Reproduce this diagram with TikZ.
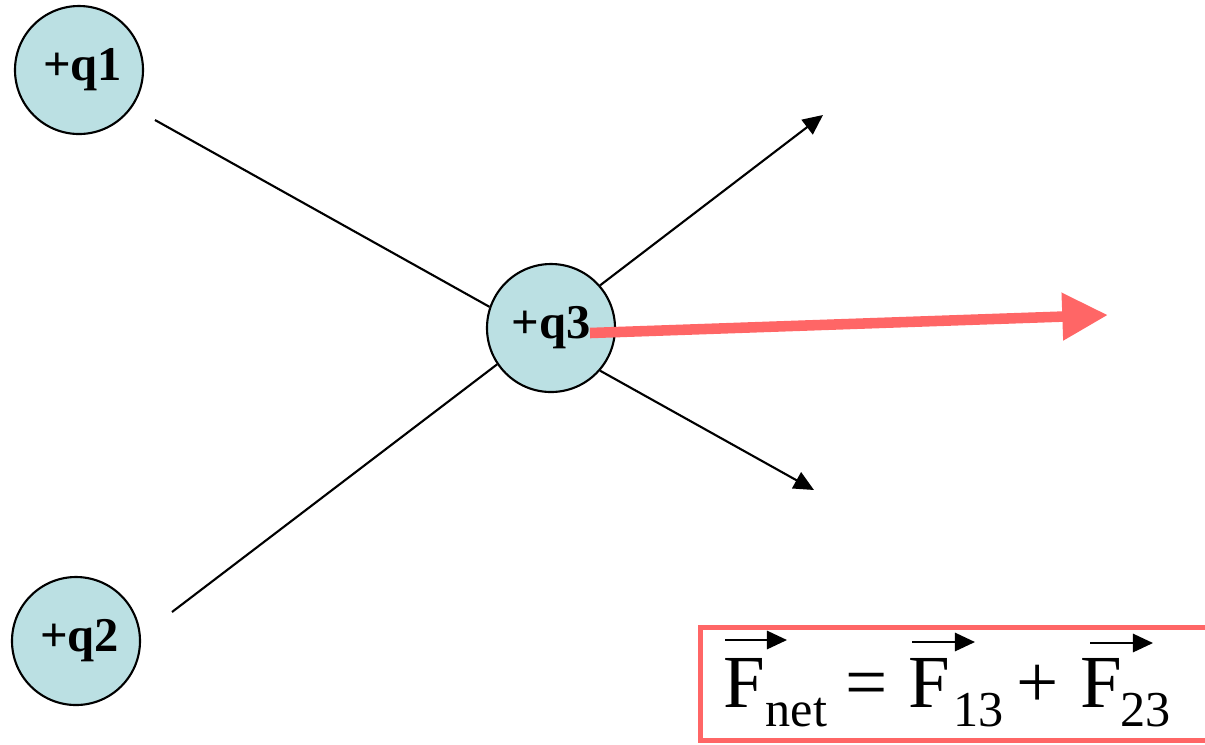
\documentclass[tikz,border=0pt]{standalone}
\usepackage{fontspec}
\setmainfont{Liberation Serif}
\usetikzlibrary{arrows.meta}
\definecolor{chargefill}{RGB}{187,224,227}
\definecolor{netred}{RGB}{255,102,102}
\tikzset{
  charge/.style={circle,draw=black,line width=0.6pt,fill=chargefill,minimum size=36.4pt,inner sep=0pt,font=\fontsize{13.8pt}{14pt}\selectfont\bfseries},
  fieldline/.style={draw=black,line width=0.6pt},
  forcearrow/.style={draw=black,line width=0.6pt,-{Triangle[length=5.7pt,width=5.2pt]}},
  netarrow/.style={draw=netred,line width=3pt,-{Triangle[length=13pt,width=12.8pt]}},
  eqbox/.style={draw=netred,line width=1.3pt},
  bigF/.style={inner sep=0pt,anchor=base west,font=\fontsize{21.3pt}{24pt}\selectfont},
  subtxt/.style={inner sep=0pt,anchor=base west,font=\fontsize{14.3pt}{16pt}\selectfont},
  vecarrow/.style={draw=black,line width=0.6pt,-{Triangle[length=5.7pt,width=5.2pt]}}
}
\begin{document}
\begin{tikzpicture}[x=0.01cm,y=-0.01cm]
\useasboundingbox (0,0) rectangle (1205,744);
\clip (0,0) rectangle (1205,744);
% charges
\node[charge] (q1) at (79,70) {\hspace*{2pt}+q1};
\node[charge] (q2) at (76,641) {\hspace*{2pt}+q2};
\node[charge] (q3) at (551,328) {+q3};
% free ends
\coordinate (s1) at (155,120);
\coordinate (s2) at (172,612);
\coordinate (t13) at (823,115);
\coordinate (t23) at (814,490);
\coordinate (ns) at (590,333);
\coordinate (nt) at (1108,315);
% lines
\draw[fieldline] (s1) -- (q3.161);
\draw[fieldline] (s2) -- (q3.214);
\draw[forcearrow] (q3.41) -- (t13);
\draw[forcearrow] (q3.-41) -- (t23);
\draw[netarrow] (ns) -- (nt);
% equation box
\draw[eqbox] (700.5,627.5) rectangle (1215,740.5);
\node[bigF] (F1) at (723,707) {F};
\node[subtxt] (s1t) at (765,726) {net};
\node[bigF] (eq) at (845,707) {=};
\node[bigF] (F2) at (908,707) {F};
\node[subtxt] (s2t) at (953,726) {13};
\node[bigF] (pl) at (1016,707) {+};
\node[bigF] (F3) at (1080,707) {F};
\node[subtxt] (s3t) at (1120,726) {23};
\coordinate (a1s) at (725,640); \coordinate (a1e) at (787,640);
\coordinate (a2s) at (912,642); \coordinate (a2e) at (975,642);
\coordinate (a3s) at (1090,643); \coordinate (a3e) at (1153,643);
\draw[vecarrow] (a1s) -- (a1e);
\draw[vecarrow] (a2s) -- (a2e);
\draw[vecarrow] (a3s) -- (a3e);
\end{tikzpicture}
\end{document}
